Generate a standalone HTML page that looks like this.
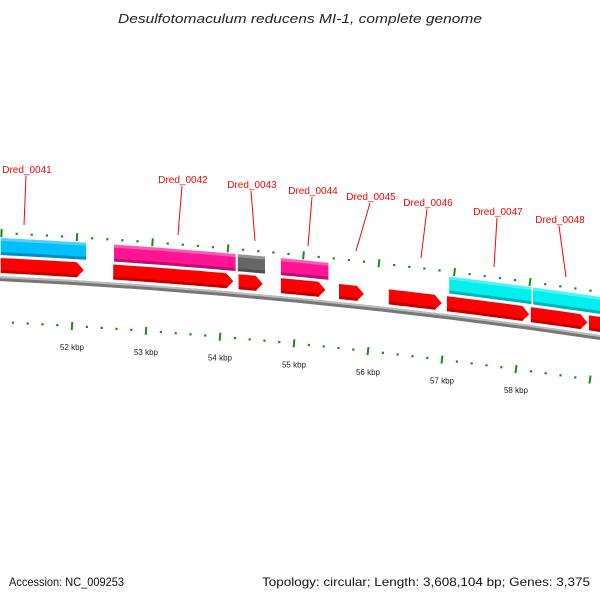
<!DOCTYPE html>
<html><head><meta charset="utf-8"><style>
html,body{margin:0;padding:0;background:#fff;width:600px;height:600px;overflow:hidden}
svg{display:block;font-family:"Liberation Sans","DejaVu Sans",sans-serif}
</style></head><body>
<svg id="map" width="600" height="600" viewBox="0 0 600 600">
<text x="118" y="23" font-size="13" font-style="italic" fill="#222" textLength="364" lengthAdjust="spacingAndGlyphs">Desulfotomaculum reducens MI-1, complete genome</text>
<text x="9" y="586" font-size="12" fill="#111" textLength="115" lengthAdjust="spacingAndGlyphs">Accession: NC_009253</text>
<text x="262" y="586" font-size="12" fill="#111" textLength="328" lengthAdjust="spacingAndGlyphs">Topology: circular; Length: 3,608,104 bp; Genes: 3,375</text>
<g id="layer"></g>
</svg>
<script>
// kbp ticks
const kbpLabels = [52,53,54,55,56,57,58];
const kbpRange = [51, 59.2];
// colored feature track genes (kbp)
const colorGeneStarts = [50.99, 52.49, 54.13, 54.70, 56.93, 58.04];
const colorGeneEnds   = [52.12, 54.10, 54.49, 55.33, 58.02, 59.8];
const colorGeneFill   = ['#00bfff','#ff1493','#666666','#ff1493','#00f0f0','#00f0f0'];
// red CDS arrows (kbp)
const cdsStarts = [50.99, 52.48, 54.14, 54.70, 55.47, 56.13, 56.90, 58.01, 58.78];
const cdsEnds   = [52.09, 54.07, 54.46, 55.29, 55.80, 56.83, 57.99, 58.76, 59.8];
// labels
const geneNames = ['Dred_0041','Dred_0042','Dred_0043','Dred_0044','Dred_0045','Dred_0046','Dred_0047','Dred_0048'];
const labelCenterX = [27, 183, 252, 313, 371, 428, 498, 560];
const labelBaseY = [173, 183, 188, 194, 200, 206, 215, 223];
const leaderEndX = [24, 178, 255, 308, 356, 421, 494, 566];
const leaderEndY = [225, 235, 241, 246, 251, 258, 267, 277];

const NS='http://www.w3.org/2000/svg';
const layer=document.getElementById('layer');
function base(x){return 278+0.0483*x+8.33e-5*x*x;}
function slope(x){return 0.0483+2*8.33e-5*x;}
function xu(k){return 77+(k-52)*75.5;}
function xl(k){return 72+(k-52)*74;}
function mk(tag,attrs){const e=document.createElementNS(NS,tag);for(const a in attrs)e.setAttribute(a,attrs[a]);layer.appendChild(e);return e;}
function band(x1,x2,o1,o2){
  const pts=[];const n=8;
  for(let i=0;i<=n;i++){const x=x1+(x2-x1)*i/n;pts.push([x,base(x)+o1]);}
  for(let i=n;i>=0;i--){const x=x1+(x2-x1)*i/n;pts.push([x,base(x)+o2]);}
  return pts.map(p=>p[0].toFixed(1)+','+p[1].toFixed(1)).join(' ');
}
function arrow(x1,x2,o1,o2){
  const h=Math.min(7,(x2-x1)*0.4);const xb=x2-h;const pts=[];const n=8;
  for(let i=0;i<=n;i++){const x=x1+(xb-x1)*i/n;pts.push([x,base(x)+o1]);}
  pts.push([x2,base(x2)+(o1+o2)/2]);
  for(let i=n;i>=0;i--){const x=x1+(xb-x1)*i/n;pts.push([x,base(x)+o2]);}
  return pts.map(p=>p[0].toFixed(1)+','+p[1].toFixed(1)).join(' ');
}
// backbone
let bb=mk('polygon',{points:band(-5,605,-2,3),fill:'#777'});


let bb2=mk('polygon',{points:band(-5,605,-2,0),fill:'#bbb'});


// ticks
for(let k=kbpRange[0];k<=kbpRange[1]+1e-6;k+=0.2){
  const big=Math.abs(k-Math.round(k))<0.01;
  [[xu(k),-45],[xl(k),44]].forEach(([x,o],j)=>{
    if(x<-3||x>603)return;
    const y=base(x)+o;const s=slope(x);
    let t;
    if(big){t=mk('line',{x1:x+s*4,y1:y-4,x2:x-s*4,y2:y+4,stroke:'#1a8a1a','stroke-width':2});}
    else{t=mk('rect',{x:x-1,y:y-1,width:2.2,height:2.2,fill:'#1a8a1a'});}
    
    
  });
}
kbpLabels.forEach(k=>{
  const x=xl(k);
  const t=mk('text',{x:x,y:base(x)+68,'font-size':8,'text-anchor':'middle',fill:'#222'});
  t.textContent=k+' kbp';
  
  
});
// colored genes
colorGeneStarts.forEach((s,i)=>{
  const x1=xu(s),x2=xu(colorGeneEnds[i]);
  const p=mk('polygon',{points:band(x1,x2,-40,-23),fill:colorGeneFill[i]});
  
  
  const d=mk('polygon',{points:band(x1,x2,-26,-23),fill:'#000','fill-opacity':0.25});
  
  
  const l=mk('polygon',{points:band(x1,x2,-40,-37),fill:'#fff','fill-opacity':0.3});
  
  
});
// cds arrows
cdsStarts.forEach((s,i)=>{
  const x1=xu(s),x2=xu(cdsEnds[i]);
  const p=mk('polygon',{points:arrow(x1,x2,-20,-5),fill:'#f00'});
  
  
  const d=mk('polygon',{points:band(x1,x2-6,-8,-5),fill:'#900','fill-opacity':0.6});
  
  
});
// labels
geneNames.forEach((n,i)=>{
  const cx=labelCenterX[i], ty=labelBaseY[i];
  const ln=mk('line',{x1:cx-1,y1:ty+3,x2:leaderEndX[i],y2:leaderEndY[i],stroke:'#f00','stroke-width':1});
  
  
  const t=mk('text',{x:cx,y:ty,'font-size':10,'text-anchor':'middle',fill:'#f00'});
  t.textContent=n;
  
  
});
</script>
</body></html>
